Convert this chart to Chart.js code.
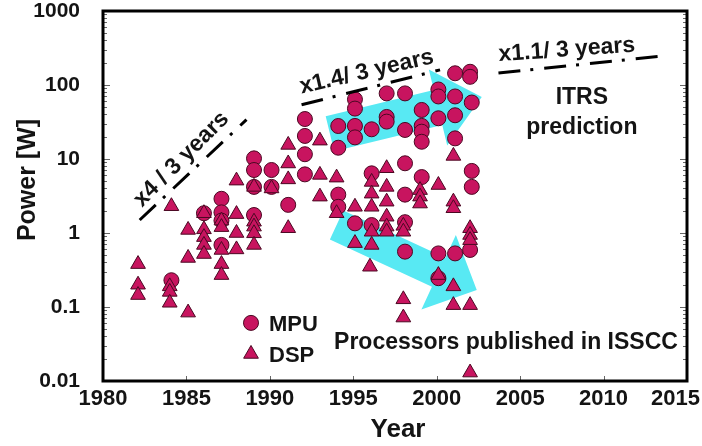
<!DOCTYPE html>
<html>
<head>
<meta charset="utf-8">
<script src="https://cdn.jsdelivr.net/npm/chart.js@4.4.0/dist/chart.umd.min.js"></script>
<style>
  html, body { margin: 0; padding: 0; background: #fff; }
  #wrap { width: 702px; height: 446px; }
</style>
</head>
<body>
<div id="wrap"><canvas id="myChart" width="702" height="446"></canvas></div>
<script>
// MPU (circles)
const mpuYears = [1984.1, 1986.05, 1987.1, 1987.1, 1987.1, 1987.1, 1989.05, 1989.05, 1989.05, 1989.05,
  1990.1, 1990.1, 1991.1, 1992.1, 1992.1, 1992.1, 1992.1, 1994.1, 1994.1, 1994.1, 1994.1,
  1995.1, 1995.1, 1995.1, 1995.1, 1995.1, 1996.1, 1996.1, 1996.1, 1997.0, 1997.0, 1997.0,
  1998.1, 1998.1, 1998.1, 1998.1, 1998.1, 1998.1, 1999.1, 1999.1, 1999.1, 1999.1, 1999.1,
  2000.1, 2000.1, 2000.1, 2000.1, 2000.1, 2001.1, 2001.1, 2001.1, 2001.1, 2001.1,
  2002.0, 2002.0, 2002.1, 2002.1, 2002.1, 2002.0];
const mpuPower = [0.23, 1.85, 2.9, 1.9, 1.47, 0.69, 10.2, 7.1, 4.2, 1.75,
  7.1, 4.2, 2.4, 34.7, 20.5, 11.6, 6.2, 27.9, 14.2, 3.3, 2.26,
  64, 48, 28, 19.6, 1.35, 25.2, 6.4, 1.28, 77, 37, 32,
  77, 24.7, 8.75, 3.3, 1.4, 0.56, 46, 28, 23.4, 17.1, 5.7,
  87, 70, 35.5, 0.53, 0.245, 144, 70, 39, 19, 0.53,
  151, 129, 58, 6.9, 4.2, 0.59];

// DSP (triangles)
const dspYears = [1982.1, 1982.1, 1982.1, 1984.1, 1984.0, 1984.0, 1984.0, 1985.1, 1985.1, 1985.1,
  1986.05, 1986.05, 1986.05, 1986.05, 1986.05, 1987.1, 1987.1, 1987.1, 1987.1, 1987.1,
  1988.0, 1988.0, 1988.0, 1988.0, 1989.05, 1989.05, 1989.05, 1989.05, 1989.05, 1990.1,
  1991.1, 1991.1, 1991.1, 1991.1, 1993.0, 1993.0, 1993.0, 1994.0, 1994.0, 1995.1, 1995.1,
  1996.1, 1996.1, 1996.1, 1996.1, 1996.1, 1996.0, 1997.0, 1997.0, 1997.0, 1997.0, 1997.0, 1997.0,
  1998.0, 1998.0, 1998.0, 1998.0, 1999.0, 1999.0, 1999.0, 2000.1, 2000.1,
  2001.0, 2001.0, 2001.0, 2001.0, 2001.0, 2002.0, 2002.0, 2002.0, 2002.0, 2002.0];
const dspPower = [0.38, 0.2, 0.145, 2.3, 0.19, 0.16, 0.114, 1.1, 0.46, 0.084,
  1.85, 1.12, 0.88, 0.69, 0.52, 1.47, 1.2, 0.59, 0.38, 0.27,
  5.1, 1.8, 1.0, 0.6, 4.2, 1.42, 1.22, 0.99, 0.69, 4.0,
  15.5, 8.7, 5.3, 1.16, 17.7, 6.1, 3.1, 5.6, 1.85, 2.26, 0.73,
  4.9, 3.4, 2.26, 1.04, 0.69, 0.35, 7.5, 4.2, 2.65, 1.66, 1.22, 1.04,
  1.25, 1.04, 0.127, 0.072, 3.8, 3.1, 2.5, 4.45, 0.27,
  11, 2.65, 2.16, 0.19, 0.106, 1.16, 0.94, 0.8, 0.106, 0.013];

const yearTicks = [1980, 1985, 1990, 1995, 2000, 2005, 2010, 2015];
const powerTicks = [0.01, 0.1, 1, 10, 100, 1000];

const FONT = '"Liberation Sans", Arial, sans-serif';
const INK = '#141414';
const FILL = '#c8145f';
const EDGE = '#4a0822';
const CYAN = '#58e9f3';

// annotation layout, in data units (year, power)
const arrows = [
  { from: [1993.6, 22], to: [2002.7, 69], shaft: 36, head: 78, headLen: 45 },
  { from: [1994.0, 1.28], to: [2002.4, 0.17], shaft: 32, head: 82, headLen: 42 }
];
const trendLines = [
  { from: [1982.2, 1.5], to: [1988.6, 34] },
  { from: [1991.9, 54], to: [2000.2, 160] },
  { from: [2003.7, 145], to: [2013.6, 247] }
];
const trendLabels = [
  { text: 'x4 / 3 years', at: [1984.7, 9.9], angle: -45 },
  { text: 'x1.4/ 3 years', at: [1995.8, 150], angle: -13 },
  { text: 'x1.1/ 3 years', at: [2007.8, 297], angle: -4 }
];

function toPx(chart, p) {
  return [chart.scales.x.getPixelForValue(p[0]), chart.scales.y.getPixelForValue(p[1])];
}

const decor = {
  id: 'decor',
  beforeDatasetsDraw(chart) {
    const ctx = chart.ctx;
    ctx.save();
    ctx.fillStyle = CYAN;
    arrows.forEach(a => {
      const [x0, y0] = toPx(chart, a.from);
      const [x1, y1] = toPx(chart, a.to);
      const len = Math.hypot(x1 - x0, y1 - y0);
      const ux = (x1 - x0) / len, uy = (y1 - y0) / len;
      const nx = -uy, ny = ux;
      const bx = x1 - ux * a.headLen, by = y1 - uy * a.headLen;
      const s = a.shaft / 2, h = a.head / 2;
      ctx.beginPath();
      ctx.moveTo(x0 + nx * s, y0 + ny * s);
      ctx.lineTo(bx + nx * s, by + ny * s);
      ctx.lineTo(bx + nx * h, by + ny * h);
      ctx.lineTo(x1, y1);
      ctx.lineTo(bx - nx * h, by - ny * h);
      ctx.lineTo(bx - nx * s, by - ny * s);
      ctx.lineTo(x0 - nx * s, y0 - ny * s);
      ctx.closePath();
      ctx.fill();
    });
    ctx.restore();
  },
  afterDraw(chart) {
    const ctx = chart.ctx;
    const {left, right, top, bottom} = chart.chartArea;
    const xs = chart.scales.x, ys = chart.scales.y;
    ctx.save();

    // inward tick marks
    ctx.strokeStyle = '#666';
    ctx.lineWidth = 1;
    ys.ticks.forEach(t => {
      const y = Math.round(ys.getPixelForValue(t.value)) + 0.5;
      const major = powerTicks.includes(t.value);
      const l = major ? 7 : 4;
      ctx.beginPath();
      ctx.moveTo(left, y); ctx.lineTo(left + l, y);
      ctx.moveTo(right, y); ctx.lineTo(right - l, y);
      ctx.stroke();
    });
    yearTicks.forEach(v => {
      const x = Math.round(xs.getPixelForValue(v)) + 0.5;
      ctx.beginPath();
      ctx.moveTo(x, bottom); ctx.lineTo(x, bottom - 5);
      ctx.stroke();
    });

    // frame
    ctx.strokeStyle = '#000';
    ctx.lineWidth = 3;
    ctx.strokeRect(left, top, right - left, bottom - top);

    // x tick labels, kept inside the canvas
    ctx.fillStyle = INK;
    ctx.font = 'bold 22px ' + FONT;
    ctx.textAlign = 'center';
    ctx.textBaseline = 'middle';
    yearTicks.forEach(v => {
      const w = ctx.measureText(String(v)).width;
      let x = xs.getPixelForValue(v);
      x = Math.min(x, chart.width - w / 2 - 2);
      ctx.fillText(String(v), x, 399);
    });

    // axis titles
    ctx.font = 'bold 26px ' + FONT;
    ctx.fillText('Year', (left + right) / 2 + 3, 430);
    ctx.save();
    ctx.translate(28, 180);
    ctx.rotate(-Math.PI / 2);
    ctx.font = 'bold 25px ' + FONT;
    ctx.fillText('Power [W]', 0, 0);
    ctx.restore();

    // trend lines (dash-dot)
    ctx.strokeStyle = '#000';
    ctx.lineWidth = 3;
    ctx.setLineDash([22, 10, 3, 11]);
    trendLines.forEach(l => {
      const [x0, y0] = toPx(chart, l.from);
      const [x1, y1] = toPx(chart, l.to);
      ctx.beginPath();
      ctx.moveTo(x0, y0); ctx.lineTo(x1, y1);
      ctx.stroke();
    });
    ctx.setLineDash([]);

    ctx.font = 'bold 23px ' + FONT;
    trendLabels.forEach(l => {
      const [x, y] = toPx(chart, l.at);
      ctx.save();
      ctx.translate(x, y);
      ctx.rotate(l.angle * Math.PI / 180);
      ctx.fillText(l.text, 0, 0);
      ctx.restore();
    });

    // ITRS / ISSCC notes
    ctx.font = 'bold 23px ' + FONT;
    let p = toPx(chart, [2008.7, 66.7]);
    ctx.fillText('ITRS', p[0], p[1]);
    p = toPx(chart, [2008.7, 26.2]);
    ctx.fillText('prediction', p[0], p[1]);
    p = toPx(chart, [2004.15, 0.0327]);
    ctx.fillText('Processors published in ISSCC', p[0], p[1]);

    // legend
    const items = [
      { label: 'MPU', style: 'circle', r: 7.5, at: [1988.87, 0.061] },
      { label: 'DSP', style: 'triangle', r: 8.5, at: [1988.87, 0.0232] }
    ];
    ctx.textAlign = 'left';
    ctx.font = 'bold 22px ' + FONT;
    items.forEach(it => {
      const [x, y] = toPx(chart, it.at);
      ctx.fillStyle = FILL;
      ctx.strokeStyle = EDGE;
      ctx.lineWidth = 1;
      Chart.helpers.drawPoint(ctx, { pointStyle: it.style, radius: it.r, rotation: 0, borderWidth: 1 }, x, y);
      ctx.fillStyle = INK;
      ctx.fillText(it.label, x + 18, y + 2);
    });

    ctx.restore();
  }
};

const ctx = document.getElementById('myChart').getContext('2d');
const myChart = new Chart(ctx, {
  type: 'scatter',
  data: {
    datasets: [
      {
        label: 'DSP',
        data: dspYears.map((x, i) => ({ x: x, y: dspPower[i] })),
        pointStyle: 'triangle',
        pointRadius: 8.5,
        backgroundColor: FILL,
        borderColor: EDGE,
        borderWidth: 1
      },
      {
        label: 'MPU',
        data: mpuYears.map((x, i) => ({ x: x, y: mpuPower[i] })),
        pointStyle: 'circle',
        pointRadius: 7.5,
        backgroundColor: FILL,
        borderColor: EDGE,
        borderWidth: 1
      }
    ]
  },
  options: {
    responsive: false,
    animation: false,
    devicePixelRatio: 1,
    layout: { padding: { left: 0, right: 15, top: 11, bottom: 0 } },
    plugins: {
      legend: { display: false },
      tooltip: { enabled: false }
    },
    scales: {
      x: {
        type: 'linear',
        min: 1980,
        max: 2015,
        grid: { display: false },
        border: { display: false },
        ticks: { display: false, stepSize: 5 },
        afterFit: s => { s.height = 65; s.paddingLeft = 0; s.paddingRight = 0; }
      },
      y: {
        type: 'logarithmic',
        min: 0.01,
        max: 1000,
        grid: { display: false },
        border: { display: false },
        afterBuildTicks: s => {
          const t = [];
          powerTicks.forEach((d, i) => {
            if (i === powerTicks.length - 1) { t.push({ value: d }); return; }
            for (let k = 1; k < 10; k++) t.push({ value: +(d * k).toPrecision(3) });
          });
          s.ticks = t;
        },
        ticks: {
          autoSkip: false,
          padding: 15,
          color: INK,
          font: { family: FONT, size: 21, weight: 'bold' },
          callback: v => powerTicks.includes(v) ? String(v) : ''
        },
        afterFit: s => { s.width = 103; s.paddingTop = 0; s.paddingBottom = 0; }
      }
    }
  },
  plugins: [decor]
});
</script>
</body>
</html>
